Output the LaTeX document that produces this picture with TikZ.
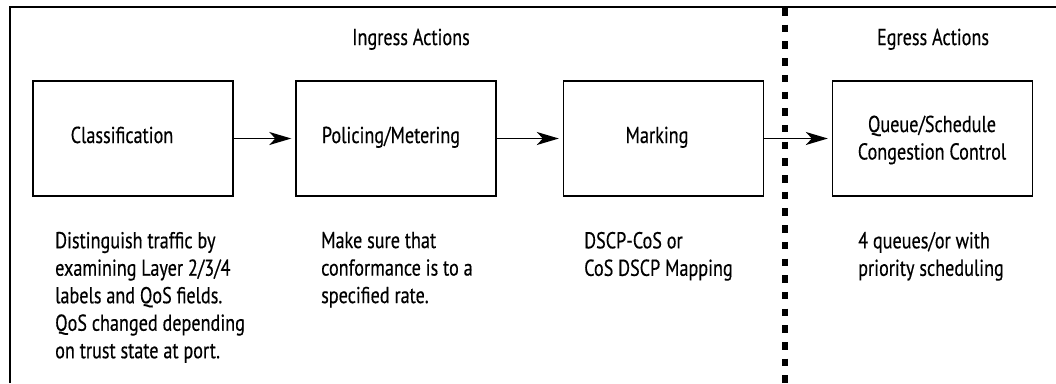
\documentclass[tikz,border=0pt]{standalone}
\usepackage{fontspec}
\setmainfont{PT Sans}[FakeStretch=0.79, FakeBold=0.4]
\usetikzlibrary{arrows.meta}

\begin{document}
\begin{tikzpicture}[x=1pt, y=-1pt,
  every node/.style={font=\fontsize{23}{27.5}\selectfont, inner sep=0pt},
  stage/.style={draw, line width=1.4pt, minimum width=200pt, minimum height=115pt},
  desc/.style={align=left, anchor=north west, execute at begin node=\strut},
  flow/.style={line width=1.3pt, -{Stealth[length=22pt, width=13pt, inset=6pt]}, shorten >=4pt},
  frame/.style={line width=1.5pt},
  divider/.style={line width=5.5pt, dash pattern=on 7.5pt off 9.2pt}
]
\useasboundingbox (0,0) rectangle (1056,383);

% open frame: top and left edges only
\coordinate (fl) at (10,383);
\coordinate (fc) at (10,7);
\coordinate (fr) at (1056,7);
\draw[frame] (fl) -- (fc) -- (fr);

% section headings
\node[anchor=base] (ingress) at (411,45) {Ingress Actions};
\node[anchor=base] (egress) at (933,45) {Egress Actions};

% processing stages
\node[stage] (cls) at (133,138.5) {};
\node[stage] (pol) at (396,138.5) {};
\node[stage] (mrk) at (663.5,138.5) {};
\node[stage] (que) at (932.5,138.5) {};

\node[anchor=base] (clsT) at (122,143) {Classification};
\node[anchor=base] (polT) at (391,143) {Policing/Metering};
\node[anchor=base] (mrkT) at (657,143) {Marking};
\node[align=center] (queT) at (932,140) {Queue/Schedule\\Congestion Control};

% flow between stages
\draw[flow] (cls.east) -- (pol.west);
\draw[flow] (pol.east) -- (mrk.west);
\draw[flow] (mrk.east) -- (que.west);

% ingress / egress boundary
\coordinate (dtop) at (785,8);
\coordinate (dbot) at (785,383);
\draw[divider] (dtop) -- (dbot);

% stage descriptions (first baseline at y = 251)
\node[desc] (clsD) at (55,231.75) {Distinguish traffic by\\examining Layer 2/3/4\\labels and QoS fields.\\QoS changed depending\\on trust state at port.};
\node[desc] (polD) at (321,231.75) {Make sure that\\conformance is to a\\specified rate.};
\node[desc] (mrkD) at (584,231.75) {DSCP-CoS or\\CoS DSCP Mapping};
\node[desc] (queD) at (858,231.75) {4 queues/or with\\priority scheduling};
\end{tikzpicture}
\end{document}
